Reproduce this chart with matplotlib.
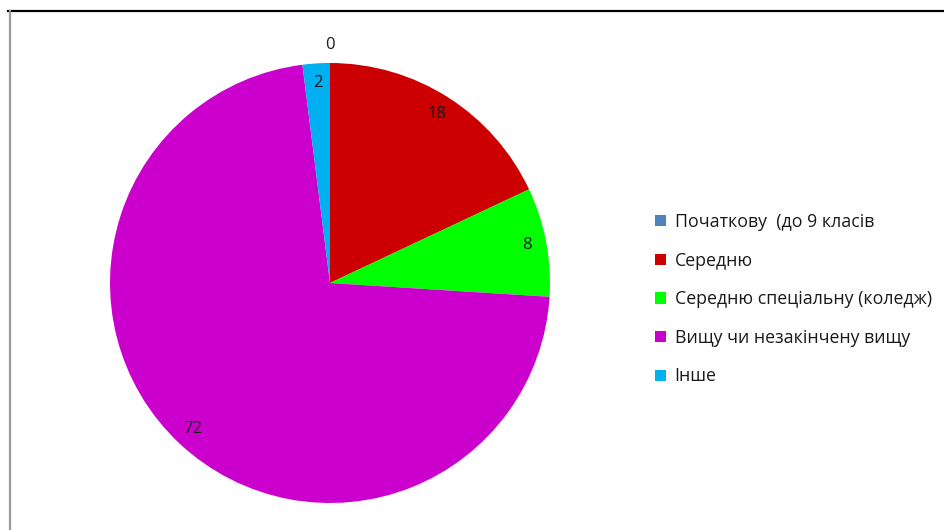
import matplotlib.pyplot as plt
from matplotlib.lines import Line2D

categories = ["Початкову  (до 9 класів", "Середню", "Середню спеціальну (коледж)",
              "Вищу чи незакінчену вищу", "Інше"]
values = [0, 18, 8, 72, 2]
colors = ["#4F81BD", "#CC0000", "#00FF00", "#CC00CC", "#00B0F0"]

plt.rcParams['font.family'] = ['Open Sans', 'DejaVu Sans']

W, H = 944, 530
fig = plt.figure(figsize=(W / 100, H / 100), dpi=100)

# pie occupies a square box, centre ~ (330, 283) px, radius 220 px
cx, cy, r = 330, 283, 220
ax = fig.add_axes([(cx - r) / W, (H - cy - r) / H, 2 * r / W, 2 * r / H])

wedges, texts = ax.pie(values, colors=colors, startangle=90, counterclock=False,
                       labels=[str(v) for v in values], labeldistance=0.91,
                       textprops=dict(fontsize=12, color="#1a1a1a"),
                       wedgeprops=dict(linewidth=0))
for t, v in zip(texts, values):
    t.set_ha("center")
    t.set_va("center")
    if v == 0:
        x, y = t.get_position()
        t.set_position((x / 0.91 * 1.08, y / 0.91 * 1.08))
ax.set_xlim(-1, 1)
ax.set_ylim(-1, 1)
ax.set_aspect("equal")
ax.axis("off")

fig.legend(wedges, categories, loc="upper left",
           bbox_to_anchor=(655 / W, 1 - 213 / H), frameon=False,
           fontsize=12.8, labelspacing=1.16, handlelength=0.6, handleheight=0.6,
           handletextpad=0.5, borderpad=0, borderaxespad=0,
           labelcolor="#1a1a1a")

# chart area border: top and left edges
fig.add_artist(Line2D([8 / W, 1], [1 - 11 / H, 1 - 11 / H], color="black", lw=1.6))
fig.add_artist(Line2D([9.5 / W, 9.5 / W], [0, 1 - 11 / H], color="#999999", lw=1.6))

fig.savefig("out.png", dpi=100)
